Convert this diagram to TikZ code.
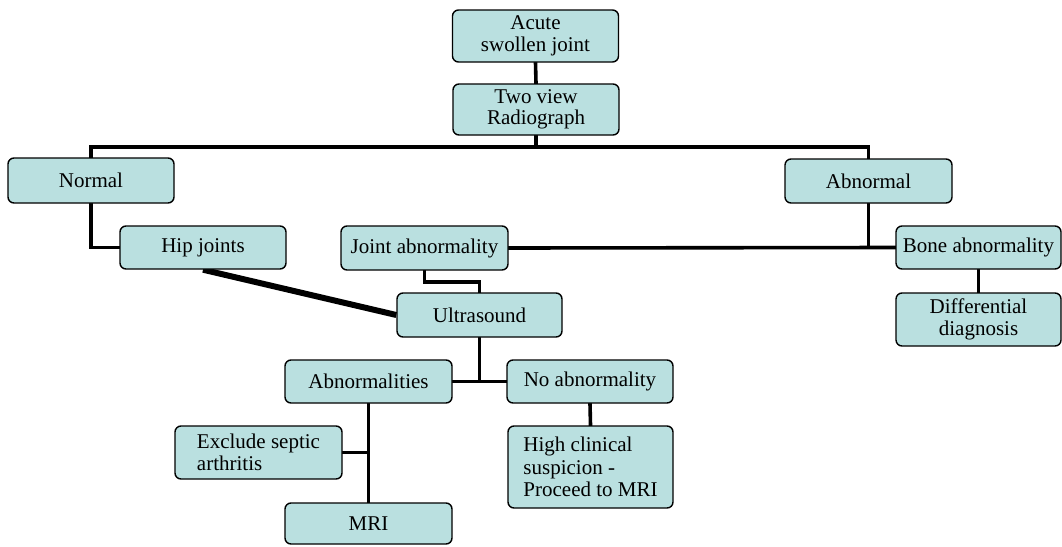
\documentclass[tikz,border=0pt]{standalone}
\usepackage{fontspec}
\setmainfont{Liberation Serif}
\definecolor{boxfill}{RGB}{186,224,224}
\pgfdeclarelayer{background}
\pgfsetlayers{background,main}
\begin{document}
\begin{tikzpicture}[x=1pt,y=-1pt,
  box/.style={draw=black, line width=1.4pt, fill=boxfill, rounded corners=6pt,
    inner sep=0pt, font=\fontsize{21}{21.5}\selectfont, align=center},
  link/.style={line width=3.6pt, line cap=rect},
  thicklink/.style={line width=6pt}]
\useasboundingbox (0,0) rectangle (1062,546);

% boxes
\node[box, minimum width=166pt, minimum height=52pt] (acute) at (535.5,36) {Acute\\swollen joint};
\node[box, minimum width=166pt, minimum height=51pt] (two) at (536,109.5) {Two view\\Radiograph};
\node[box, minimum width=166pt, minimum height=45pt] (normal) at (91,180.5) {Normal};
\node[box, minimum width=167pt, minimum height=44pt] (abnormal) at (868.5,181) {Abnormal};
\node[box, minimum width=166pt, minimum height=43pt] (hip) at (203,247.5) {Hip joints};
\node[box, minimum width=167pt, minimum height=44pt] (ja) at (424.5,248) {Joint abnormality};
\node[box, minimum width=165pt, minimum height=43pt] (bone) at (978.5,247.5) {Bone abnormality};
\node[box, minimum width=165pt, minimum height=53pt] (diff) at (978.5,319.5) {Differential\\diagnosis};
\node[box, minimum width=165pt, minimum height=44pt] (us) at (479.5,315) {Ultrasound};
\node[box, minimum width=167pt, minimum height=43pt] (abn) at (368.5,381.5) {Abnormalities};
\node[box, minimum width=166pt, minimum height=43pt] (noabn) at (590,381.5) {No abnormality};
\node[box, minimum width=167pt, minimum height=53pt, align=left] (excl) at (258.5,452.5) {Exclude septic\\arthritis};
\node[box, minimum width=165pt, minimum height=82pt, align=left, font=\fontsize{21}{22.5}\selectfont] (hcs) at (590.5,467) {High clinical\\suspicion -\\Proceed to MRI};
\node[box, minimum width=167pt, minimum height=41pt] (mri) at (368.5,523.5) {MRI};

% connectors, drawn behind the boxes
\coordinate (bus) at (536,147);
\begin{pgfonlayer}{background}
\draw[link] (acute.south) -- (two.north);
\draw[link] (two.south) -- (bus);
\draw[link] (normal.north) |- (bus) -| (abnormal.north);
\draw[link] (normal.south) |- (hip.west);
\draw[thicklink] (hip.south) -- (us.west);
\draw[link] (ja.east) -- (bone.west);
\draw[link] (abnormal.south) -- (abnormal.south |- bone.west);
\draw[link] (ja.south) -- ++(0,11) -| (us.north);
\draw[link] (us.south) -- (us.south |- abn.east);
\draw[link] (abn.east) -- (noabn.west);
\draw[link] (noabn.south) -- (hcs.north);
\draw[link] (abn.south) -- (mri.north);
\draw[link] (excl.east) -- (abn.south |- excl.east);
\draw[link] (bone.south) -- (diff.north);
\end{pgfonlayer}
\end{tikzpicture}
\end{document}
